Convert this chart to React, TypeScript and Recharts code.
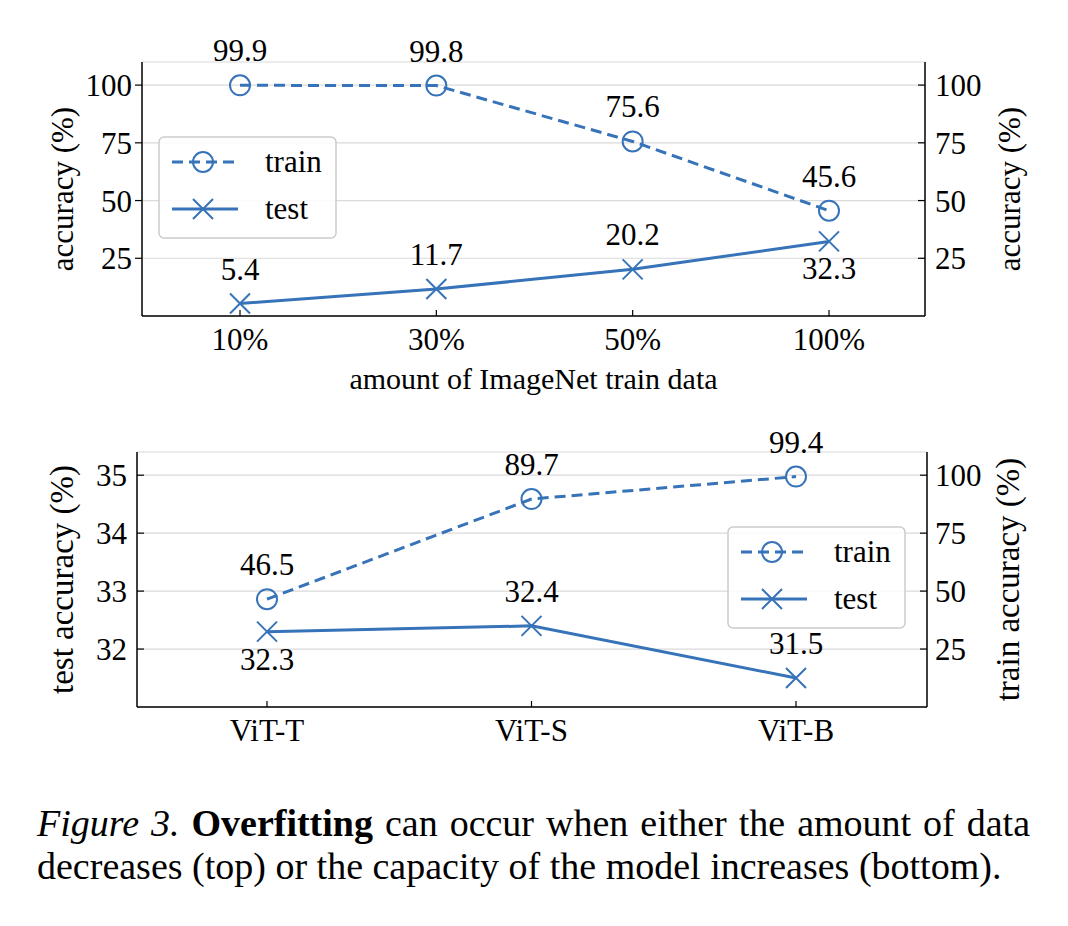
import React from 'react'
import { LineChart, Line, XAxis, YAxis, CartesianGrid, Legend, LabelList } from 'recharts'

// colours / fonts
const BLUE = '#3673b8'
const GRID = '#dadada'
const FONT = "'Liberation Serif', 'Times New Roman', Times, serif"

// top panel: amount of ImageNet train data
const dataFractions = ['10%', '30%', '50%', '100%']
const fractionTrainAcc = [99.9, 99.8, 75.6, 45.6]
const fractionTestAcc = [5.4, 11.7, 20.2, 32.3]

// bottom panel: model capacity
const modelNames = ['ViT-T', 'ViT-S', 'ViT-B']
const modelTrainAcc = [46.5, 89.7, 99.4]
const modelTestAcc = [32.3, 32.4, 31.5]

// tick labels
const accuracyTicks = [25, 50, 75, 100]
const testAccuracyTicks = [32, 33, 34, 35]

// test labels drawn under the marker instead of above
const fractionTestBelow = [false, false, false, true]
const modelTestBelow = [true, false, false]

const topData = dataFractions.map((name, i) => ({
  name,
  train: fractionTrainAcc[i],
  test: fractionTestAcc[i],
}))

const bottomData = modelNames.map((name, i) => ({
  name,
  train: modelTrainAcc[i],
  test: modelTestAcc[i],
}))

// ---- markers ----
const CircleDot = (props: any) => {
  const { cx, cy, index } = props
  if (cx == null || cy == null) return null
  return <circle key={`c-${index}`} cx={cx} cy={cy} r={10} fill="none" stroke={BLUE} strokeWidth={2} />
}

const CrossDot = (props: any) => {
  const { cx, cy, index } = props
  if (cx == null || cy == null) return null
  const s = 10
  return (
    <path
      key={`x-${index}`}
      d={`M${cx - s},${cy - s}L${cx + s},${cy + s}M${cx - s},${cy + s}L${cx + s},${cy - s}`}
      stroke={BLUE}
      strokeWidth={2}
      fill="none"
    />
  )
}

// value labels over / under the markers
const valueLabel = (below?: boolean[]) => (props: any) => {
  const { x, y, value, index } = props
  const under = below ? below[index] : false
  return (
    <text
      key={`l-${index}`}
      x={x}
      y={under ? y + 38 : y - 24}
      textAnchor="middle"
      fontSize={31}
      fontFamily={FONT}
      fill="#000"
    >
      {value}
    </text>
  )
}

// legend box like matplotlib's
const LegendBox = () => (
  <svg width={180} height={104} style={{ display: 'block', fontFamily: FONT }}>
    <rect x={1} y={1} width={177} height={101} rx={5} fill="#fff" fillOpacity={0.85} stroke="#cccccc" strokeWidth={1.5} />
    <line x1={14} x2={80} y1={26} y2={26} stroke={BLUE} strokeWidth={3} strokeDasharray="11 6" />
    <circle cx={45} cy={26} r={10} fill="none" stroke={BLUE} strokeWidth={2} />
    <text x={107} y={36} fontSize={31} fontFamily={FONT} fill="#000">train</text>
    <line x1={14} x2={80} y1={73} y2={73} stroke={BLUE} strokeWidth={3} />
    <path d="M35,63L55,83M35,83L55,63" stroke={BLUE} strokeWidth={2} fill="none" />
    <text x={107} y={83} fontSize={31} fontFamily={FONT} fill="#000">test</text>
  </svg>
)

const tickStyle = { fontSize: 31, fill: '#000', fontFamily: FONT }
const axisLine = { stroke: '#000', strokeWidth: 1.5 }
const tickLine = { stroke: '#000', strokeWidth: 1.2 }
const labelStyle = { fill: '#000', fontFamily: FONT }

export default function App() {
  return (
    <div
      style={{
        position: 'absolute',
        left: 0,
        top: 0,
        width: 1068,
        height: 926,
        background: '#fff',
        fontFamily: FONT,
      }}
    >
      {/* top: data amount */}
      <div style={{ position: 'absolute', left: 0, top: 0 }}>
        <LineChart width={1068} height={400} data={topData} margin={{ top: 62, right: 0, bottom: 0, left: 0 }}>
          <CartesianGrid yAxisId="left" vertical={false} stroke={GRID} strokeWidth={1.2} />
          <XAxis
            dataKey="name"
            height={84}
            padding={{ left: 98, right: 96 }}
            tickSize={-6}
            tickMargin={18}
            tick={tickStyle}
            tickLine={tickLine}
            axisLine={axisLine}
            label={{ value: 'amount of ImageNet train data', position: 'insideBottom', offset: 11, fontSize: 30, ...labelStyle }}
          />
          <YAxis
            yAxisId="left"
            type="number"
            width={142}
            domain={[0, 110]}
            ticks={accuracyTicks}
            allowDataOverflow
            tickSize={7}
            tickMargin={3}
            tick={tickStyle}
            tickLine={tickLine}
            axisLine={axisLine}
            label={{ value: 'accuracy (%)', angle: -90, position: 'center', dx: -9, fontSize: 31, ...labelStyle }}
          />
          <YAxis
            yAxisId="right"
            orientation="right"
            type="number"
            width={143}
            domain={[0, 110]}
            ticks={accuracyTicks}
            allowDataOverflow
            tickSize={-7}
            tickMargin={17}
            tick={tickStyle}
            tickLine={tickLine}
            axisLine={axisLine}
            label={{ value: 'accuracy (%)', angle: -90, position: 'center', dx: 12, fontSize: 31, ...labelStyle }}
          />
          <Line
            yAxisId="right"
            dataKey="train"
            stroke={BLUE}
            strokeWidth={3}
            strokeDasharray="11 6"
            dot={CircleDot}
            activeDot={false}
            isAnimationActive={false}
          >
            <LabelList dataKey="train" content={valueLabel()} />
          </Line>
          <Line
            yAxisId="left"
            dataKey="test"
            stroke={BLUE}
            strokeWidth={3}
            dot={CrossDot}
            activeDot={false}
            isAnimationActive={false}
          >
            <LabelList dataKey="test" content={valueLabel(fractionTestBelow)} />
          </Line>
          <Legend
            layout="vertical"
            align="center"
            verticalAlign="middle"
            wrapperStyle={{ left: 158, top: 136, width: 180, height: 104 }}
            content={() => <LegendBox />}
          />
        </LineChart>
      </div>

      {/* bottom: model size */}
      <div style={{ position: 'absolute', left: 0, top: 400 }}>
        <LineChart width={1068} height={350} data={bottomData} margin={{ top: 52, right: 0, bottom: 0, left: 0 }}>
          <CartesianGrid yAxisId="left" vertical={false} stroke={GRID} strokeWidth={1.2} />
          <XAxis
            dataKey="name"
            height={43}
            padding={{ left: 130, right: 131 }}
            tickSize={-6}
            tickMargin={18}
            tick={tickStyle}
            tickLine={tickLine}
            axisLine={axisLine}
          />
          <YAxis
            yAxisId="left"
            type="number"
            width={137}
            domain={[31, 35.4]}
            ticks={testAccuracyTicks}
            allowDataOverflow
            tickSize={-7}
            tickMargin={17}
            tick={tickStyle}
            tickLine={tickLine}
            axisLine={axisLine}
            label={{ value: 'test accuracy (%)', angle: -90, position: 'center', dx: -7, fontSize: 33, ...labelStyle }}
          />
          <YAxis
            yAxisId="right"
            orientation="right"
            type="number"
            width={141}
            domain={[0, 110]}
            ticks={accuracyTicks}
            allowDataOverflow
            tickSize={-7}
            tickMargin={15}
            tick={tickStyle}
            tickLine={tickLine}
            axisLine={axisLine}
            label={{ value: 'train accuracy (%)', angle: -90, position: 'center', dx: 10, fontSize: 33, ...labelStyle }}
          />
          <Line
            yAxisId="right"
            dataKey="train"
            stroke={BLUE}
            strokeWidth={3}
            strokeDasharray="11 6"
            dot={CircleDot}
            activeDot={false}
            isAnimationActive={false}
          >
            <LabelList dataKey="train" content={valueLabel()} />
          </Line>
          <Line
            yAxisId="left"
            dataKey="test"
            stroke={BLUE}
            strokeWidth={3}
            dot={CrossDot}
            activeDot={false}
            isAnimationActive={false}
          >
            <LabelList dataKey="test" content={valueLabel(modelTestBelow)} />
          </Line>
          <Legend
            layout="vertical"
            align="center"
            verticalAlign="middle"
            wrapperStyle={{ left: 727, top: 126, width: 180, height: 104 }}
            content={() => <LegendBox />}
          />
        </LineChart>
      </div>

      {/* caption */}
      <div style={{ position: 'absolute', left: 37, top: 802, width: 993, fontSize: 38, lineHeight: '43px', color: '#000' }}>
        <div style={{ textAlign: 'justify', textAlignLast: 'justify' }}>
          <i>Figure 3.</i> <b>Overfitting</b> can occur when either the amount of data
        </div>
        <div style={{ whiteSpace: 'nowrap' }}>decreases (top) or the capacity of the model increases (bottom).</div>
      </div>
    </div>
  )
}
